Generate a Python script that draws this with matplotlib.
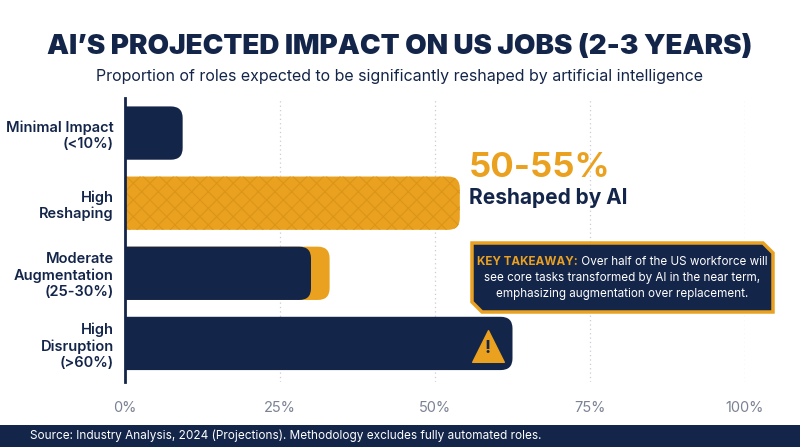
import matplotlib.pyplot as plt
from matplotlib.patches import FancyBboxPatch, Polygon, Rectangle

plt.rcParams['font.family'] = ['Inter', 'DejaVu Sans']
plt.rcParams['hatch.linewidth'] = 0.8

NAVY = '#14254a'
ORANGE = '#e9a11f'
GRID = '#c9ccd3'

categories = ['Minimal Impact\n(<10%)', 'High\nReshaping',
              'Moderate\nAugmentation\n(25-30%)', 'High\nDisruption\n(>60%)']
values = [9.3, 54, 30, 62.5]
moderate_upper = 33
tick_vals = [0, 25, 50, 75, 100]
tick_labels = ['0%', '25%', '50%', '75%', '100%']

fig = plt.figure(figsize=(8, 4.47), dpi=100)
ax = fig.add_axes([125 / 800, (447 - 382) / 447, 620 / 800, 284 / 447])
ax.set_xlim(0, 100)
ax.set_ylim(3.55, -0.5)

asp = (1 / 71) / (1 / 6.2)


def rbar(y, w, color, hatch=None, z=2):
    h = 0.76
    p = FancyBboxPatch((-4, y - h / 2), w + 4, h,
                       boxstyle='round,pad=0,rounding_size=1.9',
                       mutation_aspect=asp, fc=color, ec='none', zorder=z)
    if hatch:
        p.set_hatch(hatch)
        p.set_edgecolor('#dc9518')
        p.set_linewidth(0)
    ax.add_patch(p)


rbar(2, moderate_upper, ORANGE, z=2)
for i, v in enumerate(values):
    rbar(i, v, ORANGE if i == 1 else NAVY, hatch='//\\\\' if i == 1 else None, z=3)

# warning icon
ax.scatter([58.5], [3.03], marker='^', s=520, color=ORANGE, zorder=4)
ax.text(58.5, 3.07, '!', color=NAVY, fontsize=13, fontweight='bold',
        ha='center', va='center', zorder=5)

ax.set_xticks(tick_vals)
ax.set_xticklabels(tick_labels, color='#7b8294', fontsize=10.5)
ax.set_yticks(range(len(categories)))
ax.set_yticklabels(categories, color=NAVY, fontsize=10.5, fontweight='semibold')
ax.tick_params(length=0, pad=8)
ax.tick_params(axis='x', pad=14)
for x in tick_vals[1:]:
    ax.axvline(x, color=GRID, lw=0.9, ls=(0, (1, 2.5)), zorder=1)
for s in ['top', 'right', 'bottom']:
    ax.spines[s].set_visible(False)
ax.spines['left'].set_color(NAVY)
ax.spines['left'].set_linewidth(2)
ax.spines['left'].set_zorder(6)

# callout
ax.text(55.5, 0.72, '50-55%', color=ORANGE, fontsize=25, fontweight='bold',
        va='bottom', ha='left')
ax.text(55.5, 0.78, 'Reshaped by AI', color=NAVY, fontsize=15, fontweight='bold',
        va='top', ha='left')


# takeaway box (figure pixel coords)
def P(x, y):
    return (x / 800, 1 - y / 447)


c = 10
box = [P(472, 243), P(773 - c, 243), P(773, 243 + c), P(773, 312),
       P(472 + c, 312), P(472, 312 - c)]
fig.add_artist(Polygon(box, closed=True, fc=NAVY, ec=ORANGE, lw=2.5,
                       transform=fig.transFigure, zorder=0.5))
fs = 8.4
t1 = fig.text(0, 1 - 262 / 447, 'KEY TAKEAWAY:', color=ORANGE,
              fontsize=fs, fontweight='bold', va='center')
t2 = fig.text(0, 1 - 262 / 447, ' Over half of the US workforce will',
              color='white', fontsize=fs, va='center', ha='left')
fig.canvas.draw()
w1 = t1.get_window_extent().width
w2 = t2.get_window_extent().width
x0 = 622 - (w1 + w2) / 2
t1.set_x(x0 / 800)
t2.set_x((x0 + w1) / 800)
fig.text(622 / 800, 1 - 278 / 447, 'see core tasks transformed by AI in the near term,',
         color='white', fontsize=fs, ha='center', va='center')
fig.text(622 / 800, 1 - 294 / 447, 'emphasizing augmentation over replacement.',
         color='white', fontsize=fs, ha='center', va='center')

# title
fig.text(0.5, 1 - 47 / 447, 'AI\u2019S PROJECTED IMPACT ON US JOBS (2-3 YEARS)',
         color=NAVY, fontsize=20, fontweight='black', ha='center', va='center')
fig.text(0.5, 1 - 77 / 447,
         'Proportion of roles expected to be significantly reshaped by artificial intelligence',
         color=NAVY, fontsize=11.5, ha='center', va='center')

# footer
fig.add_artist(Rectangle((0, 0), 1, 22 / 447, transform=fig.transFigure,
                         fc=NAVY, ec='none'))
fig.text(30 / 800, 11 / 447,
         'Source: Industry Analysis, 2024 (Projections). Methodology excludes fully automated roles.',
         color='white', fontsize=8.5, va='center', ha='left')

fig.savefig('out.png', dpi=100)
